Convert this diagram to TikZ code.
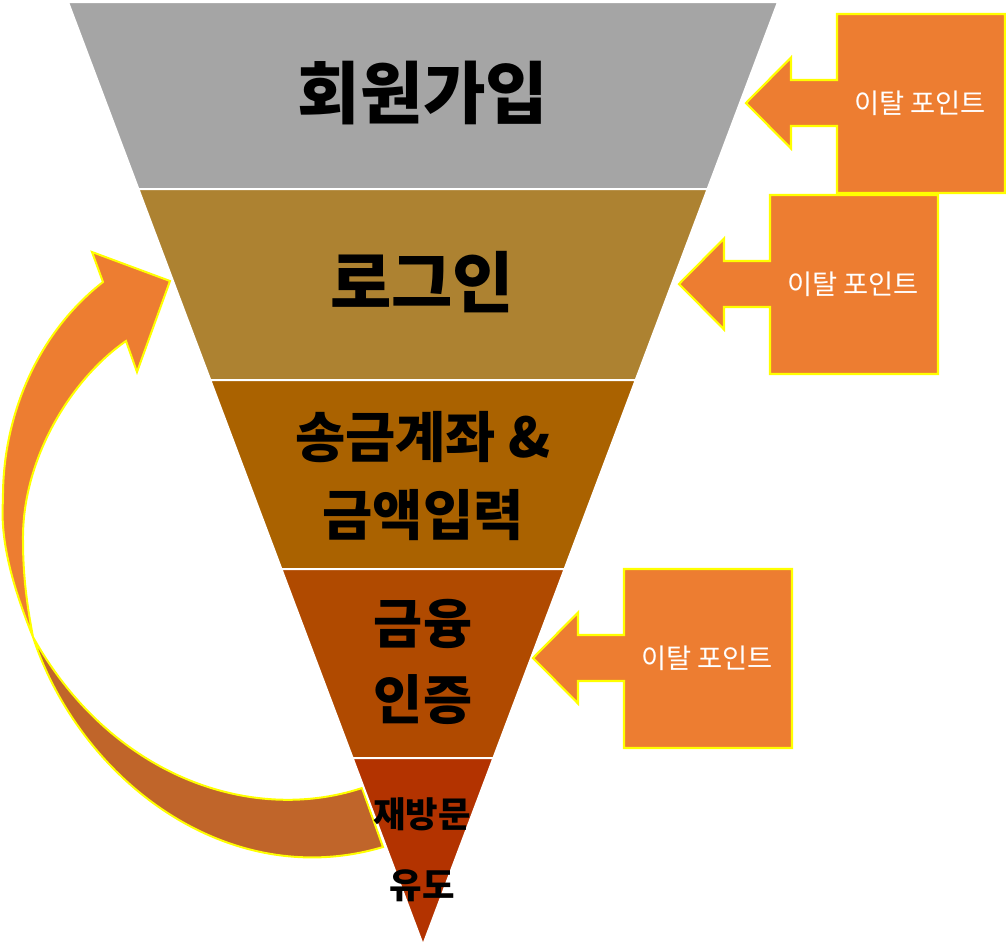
\documentclass[tikz,border=0pt]{standalone}
\usepackage{fontspec}
\setmainfont{Noto Sans CJK KR}
\definecolor{bandA}{HTML}{A5A5A5}
\definecolor{bandB}{HTML}{AD8231}
\definecolor{bandC}{HTML}{AA6200}
\definecolor{bandD}{HTML}{B04A00}
\definecolor{bandE}{HTML}{B33300}
\definecolor{calloutfill}{HTML}{ED7D31}
\definecolor{arrowdark}{HTML}{C0652A}
\definecolor{edgeyellow}{HTML}{FFFF00}
\tikzset{
  band/.style={draw=white, line width=1.5pt},
  bandtext/.style={text=black, align=center, inner sep=0pt},
  callshape/.style={fill=calloutfill, draw=edgeyellow, line width=1.6pt, line join=miter},
  calltext/.style={text=white, font=\fontsize{20.5}{24}\selectfont, inner sep=0pt},
  ribbon/.style={draw=edgeyellow, line width=1.5pt, line join=miter},
  pics/dropout/.style={code={
    \draw[callshape] (91,-89) -- (259,-89) -- (259,90) -- (91,90) -- (91,23)
      -- (45,23) -- (45,45.5) -- (0,0) -- (45,-45.5) -- (45,-23) -- (91,-23) -- cycle;
    \node[calltext] (-text) at (174,0) {이탈 포인트};
  }}
}
\begin{document}
\begin{tikzpicture}[x=0.75pt, y=-0.75pt]
\useasboundingbox (0,0) rectangle (1006,951);

% curved return arrow: lower (back) part
\path[ribbon, fill=arrowdark] (33,637) .. controls (80,780) and (228,893) .. (383,847)
  -- (362,788) .. controls (250,825) and (110,775) .. (33,637) -- cycle;
% upper (front) part with head
\path[ribbon, fill=calloutfill] (33,637) .. controls (12,585) and (0,540) .. (3,500)
  .. controls (2,420) and (35,335) .. (103,282)
  -- (92,252) -- (170,281) -- (137,372) -- (126,341)
  .. controls (70,380) and (22,460) .. (23,540)
  .. controls (23,580) and (28,610) .. (33,637) -- cycle;

% funnel bands
\path[band, fill=bandA] (68,2) -- (778,2) -- (707.6,189) -- (138.4,189) -- cycle;
\path[band, fill=bandB] (138.4,189) -- (707.6,189) -- (635.7,380) -- (210.3,380) -- cycle;
\path[band, fill=bandC] (210.3,380) -- (635.7,380) -- (564.6,569) -- (281.4,569) -- cycle;
\path[band, fill=bandD] (281.4,569) -- (564.6,569) -- (493.4,758) -- (352.6,758) -- cycle;
\path[band, fill=bandE] (352.6,758) -- (493.4,758) -- (423,945) -- cycle;

% funnel labels
\node[bandtext, font=\bfseries\fontsize{51}{60}\selectfont] (signup) at (423,93) {회원가입};
\node[bandtext, font=\bfseries\fontsize{50}{60}\selectfont] (login) at (422,282) {로그인};
\node[bandtext, font=\bfseries\fontsize{41}{58}\selectfont] (transfer) at (423,476) {송금계좌 \&\\금액입력};
\node[bandtext, font=\bfseries\fontsize{40}{57}\selectfont] (auth) at (423,662) {금융\\인증};
\node[bandtext, font=\bfseries\fontsize{26.5}{53}\selectfont] (revisit) at (422,850) {재방문\\유도};

% drop-out callouts
\pic (c1) at (746,103) {dropout};
\pic (c2) at (679,284) {dropout};
\pic (c3) at (533,658) {dropout};
\end{tikzpicture}
\end{document}
